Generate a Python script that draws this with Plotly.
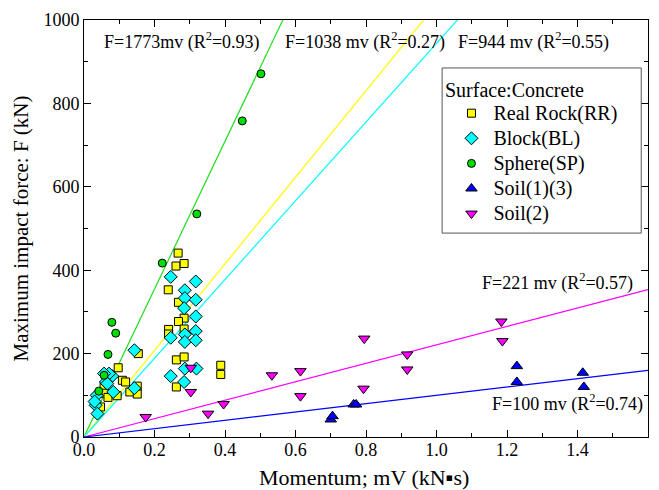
import plotly.graph_objects as go

# ---- data ----
rr_x = [0.267, 0.261, 0.284, 0.239, 0.268, 0.284, 0.268, 0.240, 0.240, 0.284, 0.262, 0.284, 0.262,
        0.388, 0.388, 0.097, 0.109, 0.118, 0.130, 0.151, 0.151, 0.154, 0.094, 0.057, 0.057, 0.047, 0.068]
rr_y = [441, 410, 416, 353, 323, 285, 277, 258, 247, 259, 185, 192, 120,
        172, 150, 166, 136, 132, 108, 122, 103, 200, 99, 120, 105, 72, 95]

bl_x = [0.246, 0.317, 0.286, 0.286, 0.317, 0.284, 0.317, 0.246, 0.286, 0.317, 0.286, 0.317, 0.286,
        0.319, 0.246, 0.284, 0.143, 0.143, 0.083, 0.080, 0.071, 0.057, 0.062, 0.066, 0.036, 0.033,
        0.038, 0.030]
bl_y = [384, 373, 352, 333, 329, 309, 289, 238, 246, 254, 228, 232, 164,
        164, 146, 132, 208, 117, 108, 146, 152, 152, 132, 128, 100, 76, 56, 85]

sp_x = [0.502, 0.449, 0.320, 0.222, 0.079, 0.090, 0.068, 0.057, 0.042]
sp_y = [871, 758, 535, 417, 275, 249, 198, 148, 110]

s13_x = [0.700, 0.705, 0.765, 0.772, 1.228, 1.228, 1.415, 1.418]
s13_y = [42, 50, 78, 78, 170, 132, 154, 120]

s2_x = [0.175, 0.352, 0.396, 0.303, 0.303, 0.533, 0.614, 0.614, 0.793, 0.795, 0.917, 0.917, 1.184, 1.187]
s2_y = [48, 56, 79, 166, 108, 148, 158, 98, 116, 236, 198, 162, 277, 230]

series_names = ["Real Rock(RR)", "Block(BL)", "Sphere(SP)", "Soil(1)(3)", "Soil(2)"]

fit_slopes = [1773, 1038, 944, 221, 100]
fit_colors = ["#22dd22", "#ffff00", "#00ffff", "#ff00ff", "#0000ff"]
fit_labels = ["F=1773mv (R<sup>2</sup>=0.93)", "F=1038 mv (R<sup>2</sup>=0.27)",
              "F=944 mv (R<sup>2</sup>=0.55)", "F=221 mv (R<sup>2</sup>=0.57)",
              "F=100 mv (R<sup>2</sup>=0.74)"]
label_x = [0.279, 0.796, 1.276, 1.343, 1.371]
label_y = [950, 950, 950, 371, 81]

x_ticks = [0.0, 0.2, 0.4, 0.6, 0.8, 1.0, 1.2, 1.4, 1.6]
x_ticktext = ["0.0", "0.2", "0.4", "0.6", "0.8", "1.0", "1.2", "1.4", "1.6"]
y_ticks = [0, 200, 400, 600, 800, 1000]

x_end = 1.6
FONT = "Liberation Serif, Times New Roman, serif"

fig = go.Figure()

for k, c in zip(fit_slopes, fit_colors):
    fig.add_trace(go.Scatter(x=[0, x_end], y=[0, k * x_end], mode="lines",
                             line=dict(color=c, width=1.2), showlegend=False, hoverinfo="skip"))

series = [
    (series_names[0], rr_x, rr_y, "square", "#ffff00", 8),
    (series_names[1], bl_x, bl_y, "diamond", "#00ffff", 10),
    (series_names[2], sp_x, sp_y, "circle", "#00dd00", 8),
    (series_names[3], s13_x, s13_y, "triangle-up", "#0000ff", 10),
    (series_names[4], s2_x, s2_y, "triangle-down", "#ff00ff", 10),
]
for name, xs, ys, sym, col, sz in series:
    fig.add_trace(go.Scatter(x=xs, y=ys, mode="markers",
                             name='<span style="font-size:20px">' + name + '</span>',
                             marker=dict(symbol=sym, color=col, size=sz,
                                         line=dict(color="black", width=1))))

for t, lx, ly in zip(fit_labels, label_x, label_y):
    fig.add_annotation(x=lx, y=ly, text=t, showarrow=False,
                       font=dict(family=FONT, size=18, color="black"))

# x-axis title as an annotation
fig.add_annotation(xref="paper", yref="paper", x=0.497, y=-0.098, yanchor="middle",
                   text="Momentum; mV (kN\u25aas)", showarrow=False,
                   font=dict(family=FONT, size=22, color="black"))

# legend frame and legend title
fig.add_shape(type="rect", xref="paper", yref="paper", x0=0.635, x1=0.988, y0=0.489, y1=0.885,
              line=dict(color="#555555", width=1), fillcolor="white", layer="above")
fig.add_annotation(xref="paper", yref="paper", x=0.636, y=(437 - 88) / 419, xanchor="left",
                   yanchor="middle", text="Surface:Concrete", showarrow=False,
                   font=dict(family=FONT, size=20, color="black"))

axis_common = dict(showline=True, linecolor="black", linewidth=1, mirror="ticks",
                   ticks="inside", ticklen=7, tickcolor="black", showgrid=False,
                   zeroline=False, tickfont=dict(family=FONT, size=18, color="black"))

fig.update_xaxes(range=[0, 1.6], tickvals=x_ticks, ticktext=x_ticktext, ticklabelstandoff=-4,
                 minor=dict(dtick=0.1, ticks="inside", ticklen=4, tickcolor="black"),
                 **axis_common)
fig.update_yaxes(range=[0, 1000], tickvals=y_ticks,
                 minor=dict(dtick=100, ticks="inside", ticklen=4, tickcolor="black"),
                 title=dict(text="Maximum impact force: F (kN)", font=dict(family=FONT, size=21, color="black"),
                            standoff=9),
                 **axis_common)

fig.update_layout(
    width=659, height=490,
    margin=dict(l=84, r=10, t=18, b=53),
    paper_bgcolor="white", plot_bgcolor="white",
    font=dict(family=FONT, color="black"),
    legend=dict(x=0.648, y=(437 - 94) / 419, xanchor="left", yanchor="top",
                bgcolor="rgba(0,0,0,0)", borderwidth=0,
                font=dict(family=FONT, size=17), itemwidth=34,
                tracegroupgap=0),
)

fig.write_html("out.html")
